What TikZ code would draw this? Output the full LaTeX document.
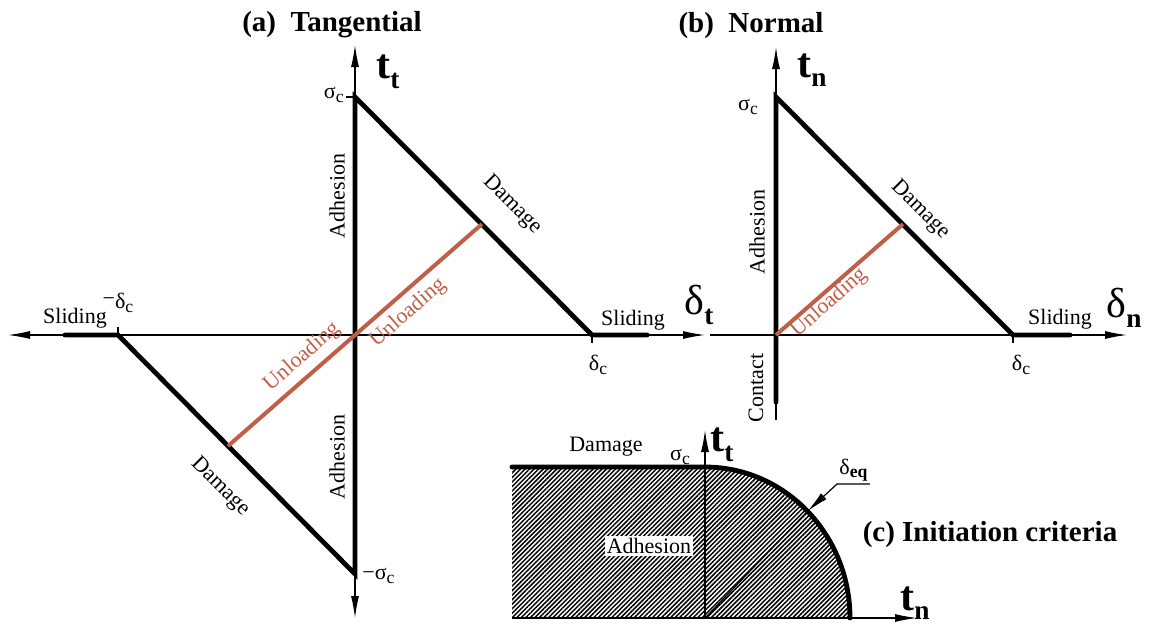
\documentclass[tikz,border=0pt]{standalone}
\usepackage{fontspec}
\usepackage{graphicx}
\setmainfont{Liberation Serif}
\usetikzlibrary{arrows.meta,patterns.meta}
\definecolor{unloadred}{RGB}{192,94,72}
\newcommand{\lowsub}[1]{\raisebox{-0.35ex}{\scalebox{0.8}{#1}}}
\newcommand{\lowax}[1]{\raisebox{-0.5ex}{\scalebox{0.65}{\textbf{#1}}}}
\newcommand{\axlab}[2]{\textbf{#1}\lowax{#2}}
\tikzset{
  axtip/.tip={Latex[length=11pt,width=4pt]},
  axis/.style={line width=0.6pt},
  law/.style={line width=2.4pt,line cap=round},
  unload/.style={line width=2pt,draw=unloadred},
  lbl/.style={font=\fontsize{11}{13}\selectfont,inner sep=1pt},
  unlbl/.style={lbl,text=unloadred,rotate=41},
  axlbl/.style={font=\fontsize{21}{24}\selectfont,inner sep=0pt},
  paneltitle/.style={font=\fontsize{14.5}{17}\selectfont\bfseries,inner sep=0pt}
}
\begin{document}
\begin{tikzpicture}[x=0.5pt,y=0.5pt]
\useasboundingbox (0,0) rectangle (1151,623);
% (a) tangential
\begin{scope}[shift={(355,288)}]
\draw[axis,axtip-axtip] (-347,0) -- (350,0);
\draw[axis,axtip-axtip] (0,-283) -- (0,290);
\draw[axis] (-237,0) -- (-237,8) (237,0) -- (237,-8) (0,238) -- (-9,238);
\draw[law] (-290,0) -- (-237,0) -- (0,-239) -- (0,238) -- (237,0) -- (292,0);
\draw[unload] (-127,-111) -- (127,111);
\node[paneltitle] (atitle) at (-23,310) {(a)\ \ Tangential};
\node[lbl] (aslideL) at (-280,17) {Sliding};
\node[lbl] (amdc) at (-237,32) {\raisebox{0.3ex}{−}δ\lowsub{c}};
\node[lbl,anchor=east] (asig) at (-9,240) {σ\lowsub{c}};
\node[axlbl] (att) at (33,263) {\axlab{t}{t}};
\node[axlbl] (adt) at (344,30) {δ\lowax{t}};
\node[lbl,rotate=90] (aadhU) at (-18,139) {Adhesion};
\node[lbl,rotate=90] (aadhL) at (-18,-122) {Adhesion};
\node[lbl,rotate=-45] (adamU) at (157,130) {Damage};
\node[lbl,rotate=-45] (adamL) at (-135,-152) {Damage};
\node[unlbl] (aunlU) at (53,22) {Unloading};
\node[unlbl] (aunlL) at (-53,-22) {Unloading};
\node[lbl,anchor=west] (amsig) at (5,-241) {−σ\lowsub{c}};
\node[lbl] (adc) at (243,-30) {δ\lowsub{c}};
\node[lbl] (aslideR) at (278,15) {Sliding};
\end{scope}
% (b) normal
\begin{scope}[shift={(776,288)}]
\draw[axis,-axtip] (-66,0) -- (351,0);
\draw[axis,-axtip] (0,-85) -- (0,288);
\draw[axis] (237,0) -- (237,-8);
\draw[law] (0,-67) -- (0,238) -- (237,0) -- (294,0);
\draw[unload] (0,0) -- (127,111);
\node[paneltitle] (btitle) at (-25,309) {(b)\ \ Normal};
\node[lbl] (bsig) at (-28,228) {σ\lowsub{c}};
\node[axlbl] (btn) at (36,265) {\axlab{t}{n}};
\node[lbl,rotate=90] (badh) at (-19,103) {Adhesion};
\node[lbl,rotate=90] (bcon) at (-20,-53) {Contact};
\node[lbl,rotate=-45] (bdam) at (144,125) {Damage};
\node[unlbl] (bunl) at (53,32) {Unloading};
\node[lbl] (bdc) at (245,-30) {δ\lowsub{c}};
\node[lbl] (bslide) at (284,16) {Sliding};
\node[axlbl] (bdn) at (348,27) {δ\lowax{n}};
\end{scope}
% (c) initiation criteria
\begin{scope}[shift={(705,5)}]
\fill[pattern={Lines[angle=45,distance=1.6pt,line width=0.75pt]}]
  (-193,0) -- (-193,151) -- (0,151)
  arc[start angle=90,end angle=0,x radius=145,y radius=151] -- cycle;
\draw[axis,-axtip] (-193,0) -- (212,0);
\draw[axis,-axtip] (0,0) -- (0,188);
\draw[axis] (0,0) -- (102.5,106.8);
\draw[law] (-193,151) -- (0,151)
  arc[start angle=90,end angle=0,x radius=145,y radius=151];
\coordinate (ceq) at (102.5,106.8);
\node[lbl,anchor=south west] (cdeq) at (132,134) {δ\lowsub{\textbf{eq}}};
\draw[axis,-axtip] (cdeq.south east) -- (cdeq.south west) -- (ceq);
\node[lbl] (cdam) at (-99,171) {Damage};
\node[lbl] (csig) at (-25,161) {σ\lowsub{c}};
\node[axlbl] (ctt) at (17,173) {\axlab{t}{t}};
\node[lbl,fill=white] (cadh) at (-56,72) {Adhesion};
\node[axlbl] (ctn) at (210,15) {\axlab{t}{n}};
\node[paneltitle] (ctitle) at (285,83) {(c) Initiation criteria};
\end{scope}
\end{tikzpicture}
\end{document}
